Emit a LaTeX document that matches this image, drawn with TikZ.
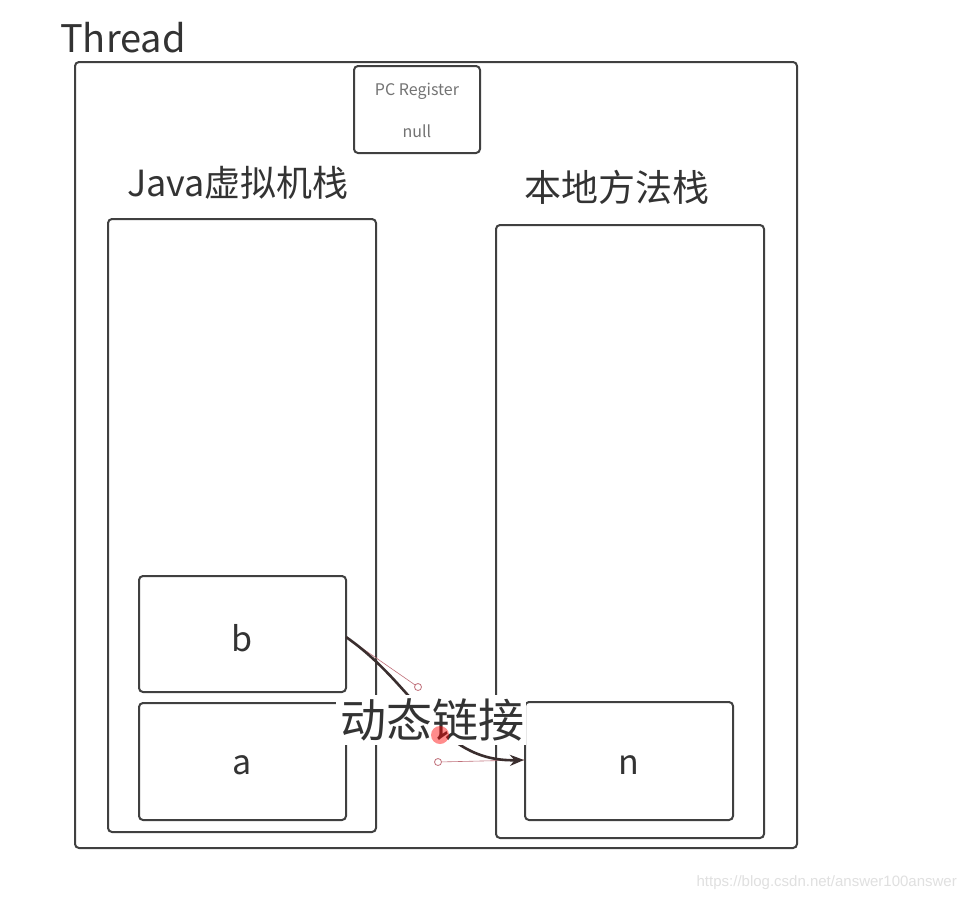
\documentclass[tikz,border=0pt]{standalone}
\usepackage{fontspec}
\setmainfont{Noto Sans CJK SC}
\newfontfamily\wmfont{Liberation Sans}
\usetikzlibrary{arrows.meta}
\definecolor{edge}{HTML}{404040}
\definecolor{txt}{HTML}{333333}
\definecolor{handle}{HTML}{C0707A}
\definecolor{link}{HTML}{3A2E2E}
\tikzset{
  box/.style={draw=edge, line width=2pt, rounded corners=4pt},
  label/.style={text=txt, inner sep=0pt, anchor=center},
}
\begin{document}
\begin{tikzpicture}[x=1pt,y=-1pt]
\useasboundingbox (0,0) rectangle (966,898);
\fill[white] (0,0) rectangle (966,898);
% outer thread box
\draw[box] (75,62) rectangle (797,848);
\node[label, font=\fontsize{38}{40}\selectfont, anchor=base west] (thread) at (60,52) {Thread};
% PC register
\draw[box] (354,66) rectangle (480,153);
\node[label, text=gray!90!black, font=\fontsize{16}{18}\selectfont] (pc) at (417,91) {PC Register};
\node[label, text=gray!90!black, font=\fontsize{16}{18}\selectfont] (null) at (417,131) {null};
% stacks
\node[label, font=\fontsize{36}{38}\selectfont] (jvm) at (238,183) {Java虚拟机栈};
\draw[box] (108,219) rectangle (376,832);
\node[label, font=\fontsize{37}{39}\selectfont] (native) at (617,187) {本地方法栈};
\draw[box] (496,225) rectangle (764,838);
% frames
\node[box, minimum width=207pt, minimum height=116pt, inner sep=0pt] (b) at (242.5,634) {};
\node[label, font=\fontsize{34}{36}\selectfont, yshift=-4pt] at (b.center) {b};
\node[box, minimum width=207pt, minimum height=117pt, inner sep=0pt] (a) at (242.5,761.5) {};
\node[label, font=\fontsize{34}{36}\selectfont, yshift=-4pt] at (a.center) {a};
\node[box, minimum width=208pt, minimum height=118pt, inner sep=0pt] (n) at (629,761) {};
\node[label, font=\fontsize{34}{36}\selectfont, yshift=-4pt] at (n.center) {n};
% dynamic link connector
\coordinate (bs) at (346,637);
\coordinate (ne) at (524,760);
\coordinate (h1) at (418,687);
\coordinate (h2) at (438,762);
\draw[handle, line width=0.6pt] (bs) -- (h1);
\draw[handle, line width=0.6pt] (h2) -- (ne);
\draw[color=link, line width=2.6pt, -{Stealth[length=14pt,width=11pt]}]
  (bs) .. controls (h1) and (h2) .. (ne);
\draw[handle, fill=white, line width=0.8pt] (h1) circle (3.5pt);
\draw[handle, fill=white, line width=0.8pt] (h2) circle (3.5pt);
\node[fill=white, inner sep=0pt, minimum width=190pt, minimum height=50pt] (lblbg) at (431,720) {};
\node[label, font=\fontsize{46}{48}\selectfont] (lbl) at (432,720) {动态链接};
\fill[red, opacity=0.45] (440,735) circle (9pt);
% watermark
\node[anchor=base east, text=black!12, font=\wmfont\fontsize{15}{17}\selectfont, inner sep=0pt] (wm) at (957,886) {https://blog.csdn.net/answer100answer};
\end{tikzpicture}
\end{document}
